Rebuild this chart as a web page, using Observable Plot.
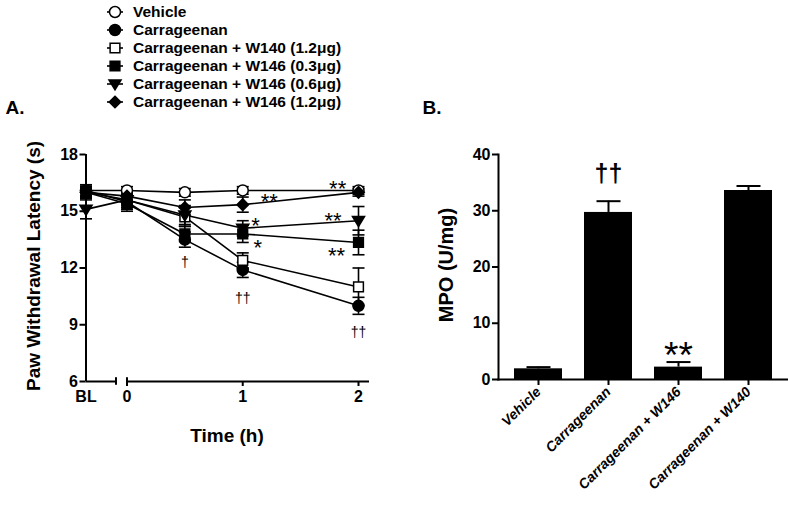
<!DOCTYPE html>
<html><head><meta charset="utf-8">
<script src="https://cdn.jsdelivr.net/npm/d3@7"></script>
<script src="https://cdn.jsdelivr.net/npm/@observablehq/plot@0.6"></script>
<style>
body{margin:0;background:#fff;}
#root{position:relative;width:788px;height:512px;overflow:hidden;font-family:"Liberation Sans",Arial,sans-serif;color:#000;}
#root > *{position:absolute;}
.lbl{font-weight:bold;white-space:nowrap;line-height:1;}
.leg{display:flex;align-items:center;font-weight:bold;font-size:15.5px;white-space:nowrap;line-height:1;}
</style></head><body><div id="root"></div>
<script>
// ---------- Data ----------
const groups = ["Vehicle","Carrageenan","Carrageenan + W140 (1.2\u03bcg)","Carrageenan + W146 (0.3\u03bcg)","Carrageenan + W146 (0.6\u03bcg)","Carrageenan + W146 (1.2\u03bcg)"];
const timesA = ["BL", 0, 0.5, 1, 2];
const meanVehicle = [16.1, 16.1, 16.0, 16.1, 16.1];
const semVehicle  = [0.3, 0.2, 0.2, 0.2, 0.2];
const meanCarr    = [16.1, 15.5, 13.5, 11.9, 10.0];
const semCarr     = [0.3, 0.4, 0.4, 0.4, 0.45];
const meanW140    = [16.0, 15.6, 14.7, 12.4, 11.0];
const semW140     = [0.3, 0.4, 0.5, 0.4, 1.0];
const meanW146lo  = [16.0, 15.4, 13.8, 13.8, 13.35];
const semW146lo   = [0.3, 0.4, 0.4, 0.45, 0.65];
const meanW146mid = [15.1, 15.6, 14.8, 14.1, 14.5];
const semW146mid  = [0.5, 0.3, 0.5, 0.4, 0.75];
const meanW146hi  = [16.0, 15.8, 15.2, 15.35, 16.0];
const semW146hi   = [0.3, 0.3, 0.4, 0.4, 0.2];
const yTicksA = [6, 9, 12, 15, 18];
const xTicksA = [0, 1, 2];

const annoTextA = ["\u2020", "\u2020\u2020", "\u2020\u2020"];
const annoTimeA = [0.5, 1, 2];
const annoValA  = [12.3, 10.4, 8.6];
const starTextA = ["**", "*", "*", "**", "**", "**"];
const starTimeA = [1.23, 1.11, 1.13, 1.82, 1.78, 1.81];
const starValA  = [15.83, 14.56, 13.4, 16.52, 14.83, 12.93];

const mpoCats = ["Vehicle", "Carrageenan", "Carrageenan + W146", "Carrageenan + W140"];
const mpoMean = [1.9, 29.7, 2.2, 33.6];
const mpoSem  = [0.3, 2.0, 0.9, 0.8];
const yTicksB = [0, 10, 20, 30, 40];
const annoCatB = ["Carrageenan", "Carrageenan + W146"];
const annoTextB = ["\u2020\u2020", "**"];
const annoValB = [36.6, 6.0];

// ---------- Symbols ----------
const triDown = {draw(ctx, size){ const s = Math.sqrt(size); const w = s*0.62; ctx.moveTo(-w, -s*0.42); ctx.lineTo(w, -s*0.42); ctx.lineTo(0, s*0.6); ctx.closePath(); }};
const capA = {draw(ctx){ ctx.moveTo(-6, 0); ctx.lineTo(6, 0); }};
const capB = {draw(ctx){ ctx.moveTo(-12, 0); ctx.lineTo(12, 0); }};
const symStyles = [
  {symbol: "circle", fill: "white"},
  {symbol: "circle", fill: "black"},
  {symbol: "square", fill: "white"},
  {symbol: "square", fill: "black"},
  {symbol: triDown, fill: "black"},
  {symbol: "diamond2", fill: "black"}
];
const d3Sym = {circle: d3.symbolCircle, square: d3.symbolSquare, diamond2: d3.symbolDiamond2};

// ---------- Tables ----------
const BL_X = -0.354;           // axis position of the baseline reading
const xOf = t => t === "BL" ? BL_X : t;
const seriesMeans = [meanVehicle, meanCarr, meanW140, meanW146lo, meanW146mid, meanW146hi];
const seriesSems  = [semVehicle, semCarr, semW140, semW146lo, semW146mid, semW146hi];
const rowsA = groups.flatMap((g, gi) => timesA.map((t, ti) => ({group: g, gi, xp: xOf(t), mean: seriesMeans[gi][ti], sem: seriesSems[gi][ti]})));
const annoA = annoTextA.map((t, i) => ({t, x: annoTimeA[i], y: annoValA[i]}));
const starsA = starTextA.map((t, i) => ({t, x: starTimeA[i], y: starValA[i]}));
const mpo = mpoCats.map((c, i) => ({cat: c, mean: mpoMean[i], sem: mpoSem[i]}));
const annoB = annoTextB.map((t, i) => ({t, cat: annoCatB[i], y: annoValB[i]}));

const root = document.getElementById("root");
const font = "'Liberation Sans', Arial, sans-serif";

// ---------- Panel A ----------
const dotMarks = symStyles.map((s, gi) => Plot.dot(rowsA.filter(d => d.gi === gi), {x: "xp", y: "mean", symbol: s.symbol, r: gi === 5 ? 5.2 : 5.5, fill: s.fill, stroke: "black", strokeWidth: 1.5}));
const A = Plot.plot({
  width: 390, height: 470,
  marginLeft: 85.5, marginRight: 21, marginTop: 154, marginBottom: 89,
  x: {domain: [BL_X, 2.095]},
  y: {domain: [6, 18]},
  style: {fontFamily: font, background: "transparent", color: "black", overflow: "visible"},
  marks: [
    Plot.line(rowsA, {x: "xp", y: "mean", z: "group", stroke: "black", strokeWidth: 1.6}),
    Plot.ruleX(rowsA, {x: "xp", y1: d => d.mean - d.sem, y2: d => d.mean + d.sem, stroke: "black", strokeWidth: 1.6}),
    Plot.dot(rowsA, {x: "xp", y: d => d.mean - d.sem, symbol: capA, fill: "none", stroke: "black", strokeWidth: 1.6}),
    Plot.dot(rowsA, {x: "xp", y: d => d.mean + d.sem, symbol: capA, fill: "none", stroke: "black", strokeWidth: 1.6}),
    ...dotMarks,
    Plot.ruleX([BL_X], {y1: 6, y2: 18, stroke: "black", strokeWidth: 2}),
    Plot.axisY({ticks: yTicksA, tickSize: 6, tickPadding: 2, strokeWidth: 2, fontSize: 16, fontWeight: "bold", label: null}),
    Plot.ruleY([6], {x1: BL_X, x2: -0.095, stroke: "black", strokeWidth: 2}),
    Plot.ruleY([6], {x1: 0, x2: 2.095, stroke: "black", strokeWidth: 2}),
    Plot.ruleX([-0.095, 0], {y1: 5.8, y2: 6.2, stroke: "black", strokeWidth: 2}),
    Plot.axisX({ticks: xTicksA, tickSize: 5, strokeWidth: 2, tickFormat: () => "", label: null}),
    Plot.axisX({ticks: [BL_X, ...xTicksA], tickSize: 0, tickPadding: 9, tickFormat: v => v === BL_X ? "BL" : String(v), fontSize: 16, fontWeight: "bold", label: null}),
    Plot.text(annoA, {x: "x", y: "y", text: "t", fontSize: 14, fill: "black"}),
    Plot.text(starsA, {x: "x", y: "y", text: "t", fontSize: 22, dy: 6, fill: "black", fontFamily: font})
  ]
});
A.style.left = "0px"; A.style.top = "0px";
root.appendChild(A);

// ---------- Panel B ----------
const B = Plot.plot({
  width: 388, height: 512,
  marginLeft: 98, marginRight: 1, marginTop: 154, marginBottom: 133,
  x: {domain: mpoCats, paddingInner: 0.32, paddingOuter: 0.2},
  y: {domain: [0, 40]},
  style: {fontFamily: font, background: "transparent", color: "black", overflow: "visible"},
  marks: [
    Plot.barY(mpo, {x: "cat", y: "mean", fill: "black"}),
    Plot.ruleX(mpo, {x: "cat", y1: "mean", y2: d => d.mean + d.sem, stroke: "black", strokeWidth: 2}),
    Plot.dot(mpo, {x: "cat", y: d => d.mean + d.sem, symbol: capB, fill: "none", stroke: "black", strokeWidth: 2}),
    Plot.frame({anchor: "left", stroke: "black", strokeWidth: 2}),
    Plot.frame({anchor: "bottom", stroke: "black", strokeWidth: 2}),
    Plot.axisY({ticks: yTicksB, tickSize: 6, tickPadding: 2, strokeWidth: 2, fontSize: 16, fontWeight: "bold", label: null}),
    Plot.axisX({tickSize: 6, strokeWidth: 2, tickRotate: -45, tickPadding: 4, fontSize: 14, fontWeight: "bold", fontStyle: "italic", label: null}),
    Plot.text(annoB.filter(d => d.t !== "**"), {x: "cat", y: "y", text: "t", fontSize: 25, fontWeight: "bold", fill: "black"}),
    Plot.text(annoB.filter(d => d.t === "**"), {x: "cat", y: "y", text: "t", fontSize: 37, dy: 10, fill: "black"})
  ]
});
B.style.left = "400px"; B.style.top = "0px";
root.appendChild(B);

// ---------- Titles / axis labels ----------
function label(text, left, top, size, rotate) {
  const d = document.createElement("div");
  d.className = "lbl";
  d.textContent = text;
  d.style.left = left + "px"; d.style.top = top + "px"; d.style.fontSize = size + "px";
  d.style.transform = "translate(-50%,-50%)" + (rotate ? " rotate(-90deg)" : "");
  root.appendChild(d);
}
label("A.", 15, 107, 19, false);
label("B.", 432, 107, 19, false);
label("Paw Withdrawal Latency (s)", 33, 266, 19, true);
label("Time (h)", 227, 435, 19, false);
label("MPO (U/mg)", 446, 265, 20, true);

// ---------- Legend ----------
groups.forEach((g, gi) => {
  const row = document.createElement("div");
  row.className = "leg";
  row.style.left = "105px"; row.style.top = (12 + 18 * gi - 9) + "px"; row.style.height = "18px";
  const s = symStyles[gi];
  const svg = d3.create("svg").attr("width", 22).attr("height", 18).style("margin-right", "6px").style("overflow", "visible");
  svg.append("line").attr("x1", 2).attr("x2", 18).attr("y1", 9).attr("y2", 9).attr("stroke", "black").attr("stroke-width", 1.6);
  const symType = typeof s.symbol === "string" ? d3Sym[s.symbol] : s.symbol;
  const area = Math.PI * (gi === 5 ? 5.2 : 5.5) ** 2;
  svg.append("path").attr("d", d3.symbol(symType, area)()).attr("transform", "translate(10,9)").attr("fill", s.fill).attr("stroke", "black").attr("stroke-width", 1.5);
  row.appendChild(svg.node());
  const sp = document.createElement("span");
  sp.textContent = g;
  row.appendChild(sp);
  root.appendChild(row);
});
</script>
</body></html>
